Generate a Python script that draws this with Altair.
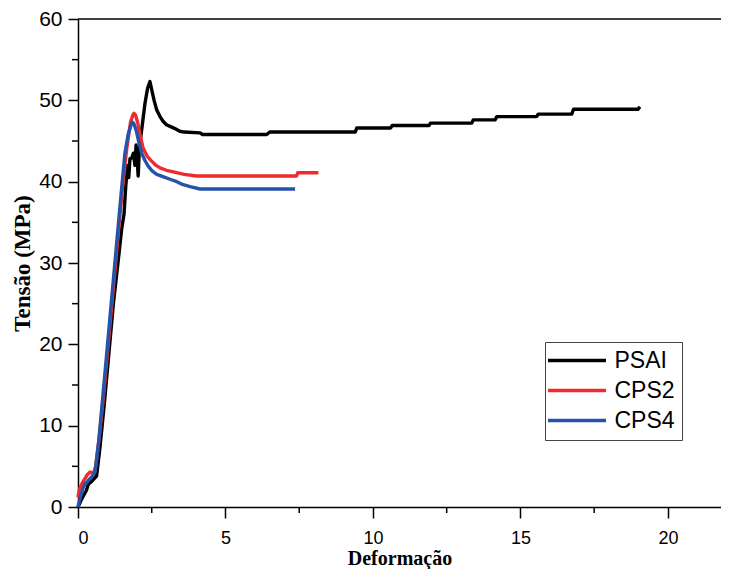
import altair as alt
import pandas as pd

series_names = ["PSAI", "CPS2", "CPS4"]
series_colors = ["#000000", "#ef2b2d", "#2552aa"]

psai_x = [0, 0.1, 0.2, 0.28, 0.35, 0.45, 0.55, 0.63, 0.75, 0.9, 1.05, 1.2, 1.37, 1.48,
          1.56, 1.62, 1.68, 1.72, 1.76, 1.82, 1.88, 1.93, 1.97, 2.01, 2.04, 2.08,
          2.16, 2.27, 2.36, 2.44, 2.5, 2.58, 2.67, 2.78, 2.89, 3.0, 3.12,
          3.3, 3.45, 3.6, 4.14, 4.22,
          6.4, 6.5, 9.4, 9.45, 10.6, 10.65, 11.9, 11.95, 13.35, 13.4, 14.14, 14.2,
          15.55, 15.6, 16.74, 16.8, 18.99, 19.05]
psai_y = [0, 0.8, 1.5, 2.0, 2.8, 3.1, 3.5, 3.8, 7.5, 13.0, 19.0, 25.0, 30.5, 34.2,
          36.0, 39.5, 42.0, 40.5, 42.8, 42.9, 43.5, 42.0, 44.5, 42.5, 40.7, 44.0,
          46.4, 49.6, 51.5, 52.3, 51.3, 50.0, 48.8, 48.0, 47.4, 47.0, 46.8,
          46.5, 46.2, 46.1, 46.0, 45.8,
          45.8, 46.1, 46.1, 46.6, 46.6, 46.9, 46.9, 47.2, 47.2, 47.6, 47.6, 48.0,
          48.0, 48.3, 48.3, 48.9, 48.9, 49.2]

cps2_x = [0, 0.05, 0.15, 0.24, 0.32, 0.41, 0.48, 0.52, 0.6, 0.75, 0.9, 1.1, 1.3, 1.5,
          1.65, 1.78, 1.86, 1.9, 1.95, 2.02, 2.1, 2.21, 2.35, 2.5, 2.65, 2.78, 3.0,
          3.23, 3.6, 4.02, 7.41, 7.45, 8.15]
cps2_y = [1.2, 2.2, 3.0, 3.5, 4.0, 4.3, 4.2, 4.1, 5.0, 9.5, 15.0, 23.0, 31.0, 39.0,
          44.0, 47.3, 48.2, 48.4, 48.2, 47.3, 45.8, 44.1, 43.1, 42.5, 42.0, 41.7, 41.4,
          41.2, 40.9, 40.7, 40.7, 41.1, 41.1]

cps4_x = [0, 0.08, 0.16, 0.24, 0.3, 0.38, 0.46, 0.52, 0.58, 0.7, 0.92, 1.1, 1.3, 1.45,
          1.59, 1.7, 1.8, 1.85, 1.9, 1.98, 2.06, 2.16, 2.27, 2.38, 2.52, 2.67, 2.9,
          3.12, 3.35, 3.51, 3.8, 4.14, 7.36]
cps4_y = [0, 1.2, 2.2, 2.9, 3.0, 3.4, 3.7, 4.0, 4.3, 8.0, 16.7, 24.0, 32.0, 38.0,
          43.5, 45.8, 47.0, 47.3, 47.1, 46.2, 44.9, 43.5, 42.6, 41.9, 41.3, 40.9, 40.6,
          40.3, 40.0, 39.7, 39.4, 39.1, 39.1]

x_major = [0, 5, 10, 15, 20]
x_minor = [2.5, 7.5, 12.5, 17.5]
y_major = [0, 10, 20, 30, 40, 50, 60]
y_minor = [5, 15, 25, 35, 45, 55]

rows = []
for name, xs, ys in [("PSAI", psai_x, psai_y), ("CPS2", cps2_x, cps2_y), ("CPS4", cps4_x, cps4_y)]:
    for i, (xv, yv) in enumerate(zip(xs, ys)):
        rows.append({"series": name, "x": xv, "y": yv, "i": i})
df = pd.DataFrame(rows)

W, H = 643, 488
xscale = alt.Scale(domain=[0, 21.8], nice=False, zero=False)
yscale = alt.Scale(domain=[0, 60], nice=False)

lines = alt.Chart(df).mark_line(strokeWidth=3.4, strokeJoin="round").encode(
    x=alt.X("x:Q", scale=xscale,
            axis=alt.Axis(values=x_major, title="Deformação", grid=False, tickSize=11,
                          labelPadding=11, labelFontSize=18, titlePadding=1,
                          titleFontSize=20, format="d")),
    y=alt.Y("y:Q", scale=yscale,
            axis=alt.Axis(values=y_major, title="Tensão (MPa)", grid=False, tickSize=10,
                          labelPadding=6, labelFontSize=21, titlePadding=4,
                          titleFontSize=23, format="d")),
    color=alt.Color("series:N",
                    scale=alt.Scale(domain=series_names, range=series_colors),
                    legend=alt.Legend(title=None, orient="none", legendX=467, legendY=323,
                                      symbolType="M-5.8,0H5.8", symbolSize=100,
                                      symbolStrokeWidth=3.5, symbolOffset=13.5,
                                      labelFontSize=23, labelFont="Liberation Sans",
                                      labelColor="black", labelOffset=26,
                                      strokeColor="#444444", padding=7, fillColor="white",
                                      rowPadding=6)),
    order="i:Q",
)

xm = alt.Chart(pd.DataFrame({"x": x_minor})).mark_rule(color="black", strokeWidth=1.5).encode(
    x=alt.X("x:Q", scale=xscale), y=alt.value(H), y2=alt.value(H + 6))
ym = alt.Chart(pd.DataFrame({"y": y_minor})).mark_rule(color="black", strokeWidth=1.5).encode(
    y=alt.Y("y:Q", scale=yscale), x=alt.value(-6), x2=alt.value(0))
top = alt.Chart(pd.DataFrame({"y": [60]})).mark_rule(color="black", strokeWidth=1.5).encode(
    y=alt.Y("y:Q", scale=yscale), x=alt.value(0), x2=alt.value(W))

chart = alt.layer(lines, xm, ym, top).properties(
    width=W, height=H,
    padding={"left": 70, "top": 11, "right": 0, "bottom": 62},
    autosize=alt.AutoSizeParams(type="none"),
).configure_view(stroke=None).configure_axis(
    domainColor="black", domainWidth=1.5, tickColor="black", tickWidth=1.5,
    labelFont="Liberation Sans", labelColor="black",
    titleFont="Liberation Serif", titleFontWeight="bold", titleColor="black",
)

chart.save("out.html", embed_options={"renderer": "svg", "actions": False})
